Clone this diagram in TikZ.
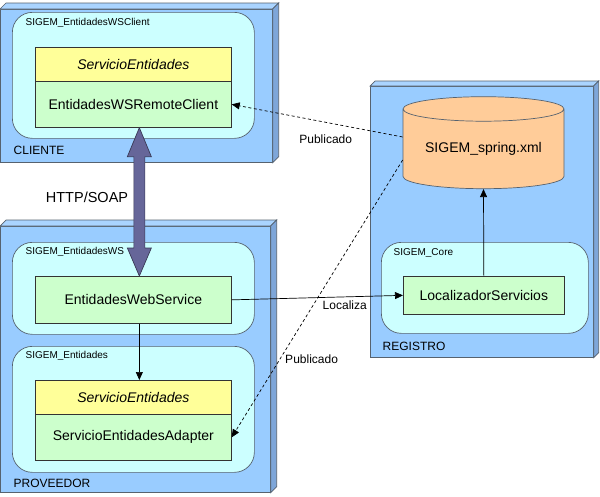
\documentclass[tikz,border=0pt]{standalone}
\usepackage{fontspec}
\setmainfont{Liberation Sans}
\usetikzlibrary{arrows.meta,calc,shapes.geometric}

\definecolor{nodeblue}{HTML}{99CCFF}
\definecolor{nodetop}{HTML}{AAD4FF}
\definecolor{nodeside}{HTML}{7EA6D9}
\definecolor{pkgcyan}{HTML}{CCFFFF}
\definecolor{clsyellow}{HTML}{FFFF99}
\definecolor{clsgreen}{HTML}{CCFFCC}
\definecolor{dborange}{HTML}{FFCC99}
\definecolor{soap}{HTML}{666699}
\definecolor{edgegrey}{HTML}{56626F}

\begin{document}
\begin{tikzpicture}[x=1pt,y=-1pt,line width=0.7pt]
\useasboundingbox (0,0) rectangle (600,496);

\begin{scope}[every node/.style={draw=edgegrey,fill=nodeblue,anchor=north west,inner sep=0pt}]
    \node[minimum width=272pt,minimum height=153pt] (C) at (0,9) {};
    \node[minimum width=270pt,minimum height=266pt] (P) at (0,226) {};
    \node[minimum width=223pt,minimum height=271pt] (R) at (370,86) {};
\end{scope}

\filldraw[draw=edgegrey,fill=nodetop] (C.north west) -- ++(6,-6) -- ([shift={(6,-6)}]C.north east) -- (C.north east) -- cycle;
\filldraw[draw=edgegrey,fill=nodeside] (C.north east) -- ++(6,-6) -- ([shift={(6,-6)}]C.south east) -- (C.south east) -- cycle;
\filldraw[draw=edgegrey,fill=nodetop] (P.north west) -- ++(6,-6) -- ([shift={(6,-6)}]P.north east) -- (P.north east) -- cycle;
\filldraw[draw=edgegrey,fill=nodeside] (P.north east) -- ++(6,-6) -- ([shift={(6,-6)}]P.south east) -- (P.south east) -- cycle;
\filldraw[draw=edgegrey,fill=nodetop] (R.north west) -- ++(5,-5) -- ([shift={(5,-5)}]R.north east) -- (R.north east) -- cycle;
\filldraw[draw=edgegrey,fill=nodeside] (R.north east) -- ++(5,-5) -- ([shift={(5,-5)}]R.south east) -- (R.south east) -- cycle;

\begin{scope}[every node/.style={anchor=west,font=\fontsize{12}{14}\selectfont}]
    \node (Cl) at (10,150) {CLIENTE};
    \node (Pl) at (10,483) {PROVEEDOR};
    \node (Rl) at (379,346) {REGISTRO};
\end{scope}

\begin{scope}[every node/.style={draw=edgegrey,fill=pkgcyan,rounded corners=20pt,anchor=north west,inner sep=0pt}]
    \node[minimum width=242pt,minimum height=126pt] (WSC) at (12,12) {};
    \node[minimum width=242pt,minimum height=92pt] (WS) at (12,242) {};
    \node[minimum width=242pt,minimum height=126pt] (E) at (12,346) {};
    \node[minimum width=207pt,minimum height=91pt] (CO) at (381,242) {};
\end{scope}

\begin{scope}[every node/.style={anchor=west,font=\fontsize{10}{12}\selectfont}]
    \node (WSCl) at (22,23) {SIGEM\_EntidadesWSClient};
    \node (WSl) at (22,252) {SIGEM\_EntidadesWS};
    \node (El) at (22,356) {SIGEM\_Entidades};
    \node (COl) at (390,253) {SIGEM\_Core};
\end{scope}

\begin{scope}[every node/.style={draw=black!80,anchor=north west,inner sep=0pt,font=\fontsize{14}{16}\selectfont}]
    \node[fill=clsyellow,minimum width=196pt,minimum height=34pt] (RCh) at (35,47) {\textit{ServicioEntidades}};
    \node[fill=clsgreen,minimum width=196pt,minimum height=46pt] (RC) at (35,81) {EntidadesWSRemoteClient};
    \node[fill=clsgreen,minimum width=196pt,minimum height=47pt] (WSN) at (35,276) {EntidadesWebService};
    \node[fill=clsyellow,minimum width=196pt,minimum height=34pt] (SEh) at (35,380) {\textit{ServicioEntidades}};
    \node[fill=clsgreen,minimum width=196pt,minimum height=46pt] (SE) at (35,414) {ServicioEntidadesAdapter};
    \node[fill=clsgreen,minimum width=161pt,minimum height=38pt] (LOC) at (403,276) {LocalizadorServicios};
\end{scope}

\node[cylinder,shape border rotate=90,aspect=0.21,draw=edgegrey,fill=dborange,
      minimum width=161pt,minimum height=92pt,inner sep=0pt,font=\fontsize{14}{16}\selectfont] (DB) at (483.5,149) {SIGEM\_spring.xml};

\filldraw[fill=soap,draw=soap!55!black] ([xshift=6pt]RC.south) -- ++(12,29) -- ++(-6.5,0)
    -- ($([xshift=6pt]WSN.north)+(5.5,-28)$) -- ++(6.5,0) -- ([xshift=6pt]WSN.north) -- ++(-12,-28) -- ++(6.5,0)
    -- ($([xshift=6pt]RC.south)+(-5.5,29)$) -- ++(-6.5,0) -- cycle;
\node[font=\fontsize{14.5}{16}\selectfont] (H) at (87,197) {HTTP/SOAP};

\begin{scope}[>={Triangle[length=8pt,width=7pt]},
              every node/.style={font=\fontsize{12}{14}\selectfont}]
    \draw[->] (WSN.east) -- node[below,pos=0.66] {Localiza} (LOC.west);
    \draw[->] (LOC.north) -- (DB.south);
    \draw[->] ([xshift=6pt]WSN.south) -- ([xshift=6pt]SEh.north);
    \draw[->,dash pattern=on 3pt off 2.5pt] ([yshift=12pt]DB.west) -- node[below,pos=0.45,yshift=-9pt] {Publicado} (RC.east);
    \draw[->,dash pattern=on 3pt off 2.5pt] ([yshift=-11pt]DB.west) -- node[right,pos=0.72,xshift=2pt] {Publicado} (SE.east);
\end{scope}
\end{tikzpicture}
\end{document}
